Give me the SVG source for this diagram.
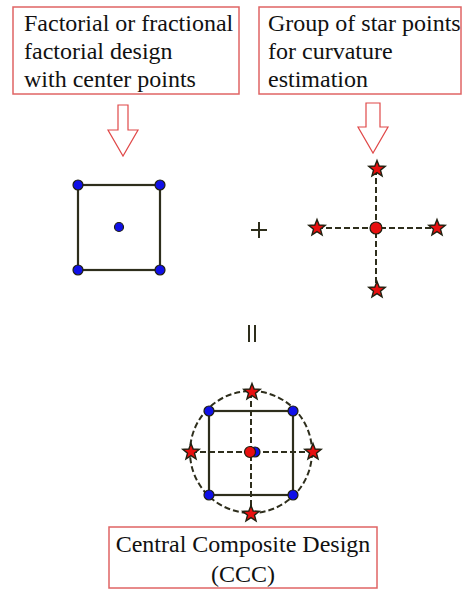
<svg xmlns="http://www.w3.org/2000/svg" width="463" height="590" viewBox="0 0 463 590">
<style>
.box{fill:#fff;stroke:#e06464;stroke-width:1.5}
.lbl{font-size:24px;fill:#111}
.arr{fill:#fff;stroke:#e04848;stroke-width:1.2}
.solid{fill:none;stroke:#2e2e1c;stroke-width:2.2}
.dash{fill:none;stroke:#2e2e1c;stroke-width:2;stroke-dasharray:6 3}
.blue{fill:#1010e8;stroke:#202010;stroke-width:1.2}
.red{fill:#e81010;stroke:#202010;stroke-width:1.2}
.sym{stroke:#2e2e1c;stroke-width:2}
</style>
<defs>
<path id="star" transform="scale(1.15)" d="M0,-7.5 L1.88,-2.59 L7.13,-2.32 L3.04,0.99 L4.41,6.07 L0,3.2 L-4.41,6.07 L-3.04,0.99 L-7.13,-2.32 L-1.88,-2.59 Z" fill="#e81010" stroke="#202010" stroke-width="1.2"/>
</defs>
<g font-family="'Liberation Serif', 'DejaVu Serif', serif">
<g id="box-factorial">
<rect class="box" x="13" y="7" width="226" height="87"/>
<text class="lbl" x="24" y="31">Factorial or fractional</text>
<text class="lbl" x="24" y="59">factorial design</text>
<text class="lbl" x="24" y="87">with center points</text>
</g>
<g id="box-star">
<rect class="box" x="259" y="7" width="202" height="87"/>
<text class="lbl" x="268" y="31">Group of star points</text>
<text class="lbl" x="268" y="59">for curvature</text>
<text class="lbl" x="268" y="87">estimation</text>
</g>
<g id="connectors">
<polygon class="arr" points="118,105 128,105 128,130 138,130 123,156 108,130 118,130"/>
<polygon class="arr" points="366,103 380,103 380,127 388,127 373,153 358,127 366,127"/>
</g>
<g id="factorial-square">
<rect class="solid" x="78" y="185" width="82" height="85"/>
<circle class="blue" cx="78" cy="185" r="5"/>
<circle class="blue" cx="160" cy="185" r="5"/>
<circle class="blue" cx="78" cy="270" r="5"/>
<circle class="blue" cx="160" cy="270" r="5"/>
<circle class="blue" cx="119" cy="227" r="4.5"/>
</g>
<g id="plus">
<line class="sym" x1="251" y1="230" x2="267" y2="230"/>
<line class="sym" x1="259" y1="222" x2="259" y2="238"/>
</g>
<g id="star-points">
<line class="dash" x1="376" y1="169" x2="376" y2="290"/>
<line class="dash" x1="317" y1="228" x2="437" y2="228"/>
<circle class="red" cx="376" cy="228" r="6"/>
<use href="#star" x="377" y="169"/>
<use href="#star" x="377" y="290"/>
<use href="#star" x="317" y="228"/>
<use href="#star" x="437" y="228"/>
</g>
<g id="equals">
<line class="sym" x1="249" y1="325" x2="249" y2="342"/>
<line class="sym" x1="255" y1="325" x2="255" y2="342"/>
</g>
<g id="ccc">
<circle class="dash" cx="251" cy="452" r="61"/>
<rect class="solid" x="209" y="411" width="84" height="84"/>
<line class="dash" x1="251" y1="392" x2="251" y2="514"/>
<line class="dash" x1="191" y1="452" x2="313" y2="452"/>
<circle class="blue" cx="209" cy="411" r="5"/>
<circle class="blue" cx="293" cy="411" r="5"/>
<circle class="blue" cx="209" cy="495" r="5"/>
<circle class="blue" cx="293" cy="495" r="5"/>
<circle class="blue" cx="255" cy="452" r="5"/>
<circle class="red" cx="250" cy="452" r="5.5"/>
<use href="#star" x="252" y="392"/>
<use href="#star" x="251" y="514"/>
<use href="#star" x="191" y="452"/>
<use href="#star" x="313" y="452"/>
</g>
<g id="box-ccc">
<rect class="box" x="109" y="527" width="268" height="61"/>
<text class="lbl" x="243" y="552" text-anchor="middle">Central Composite Design</text>
<text class="lbl" x="243" y="582" text-anchor="middle">(CCC)</text>
</g>
</g>
</svg>
